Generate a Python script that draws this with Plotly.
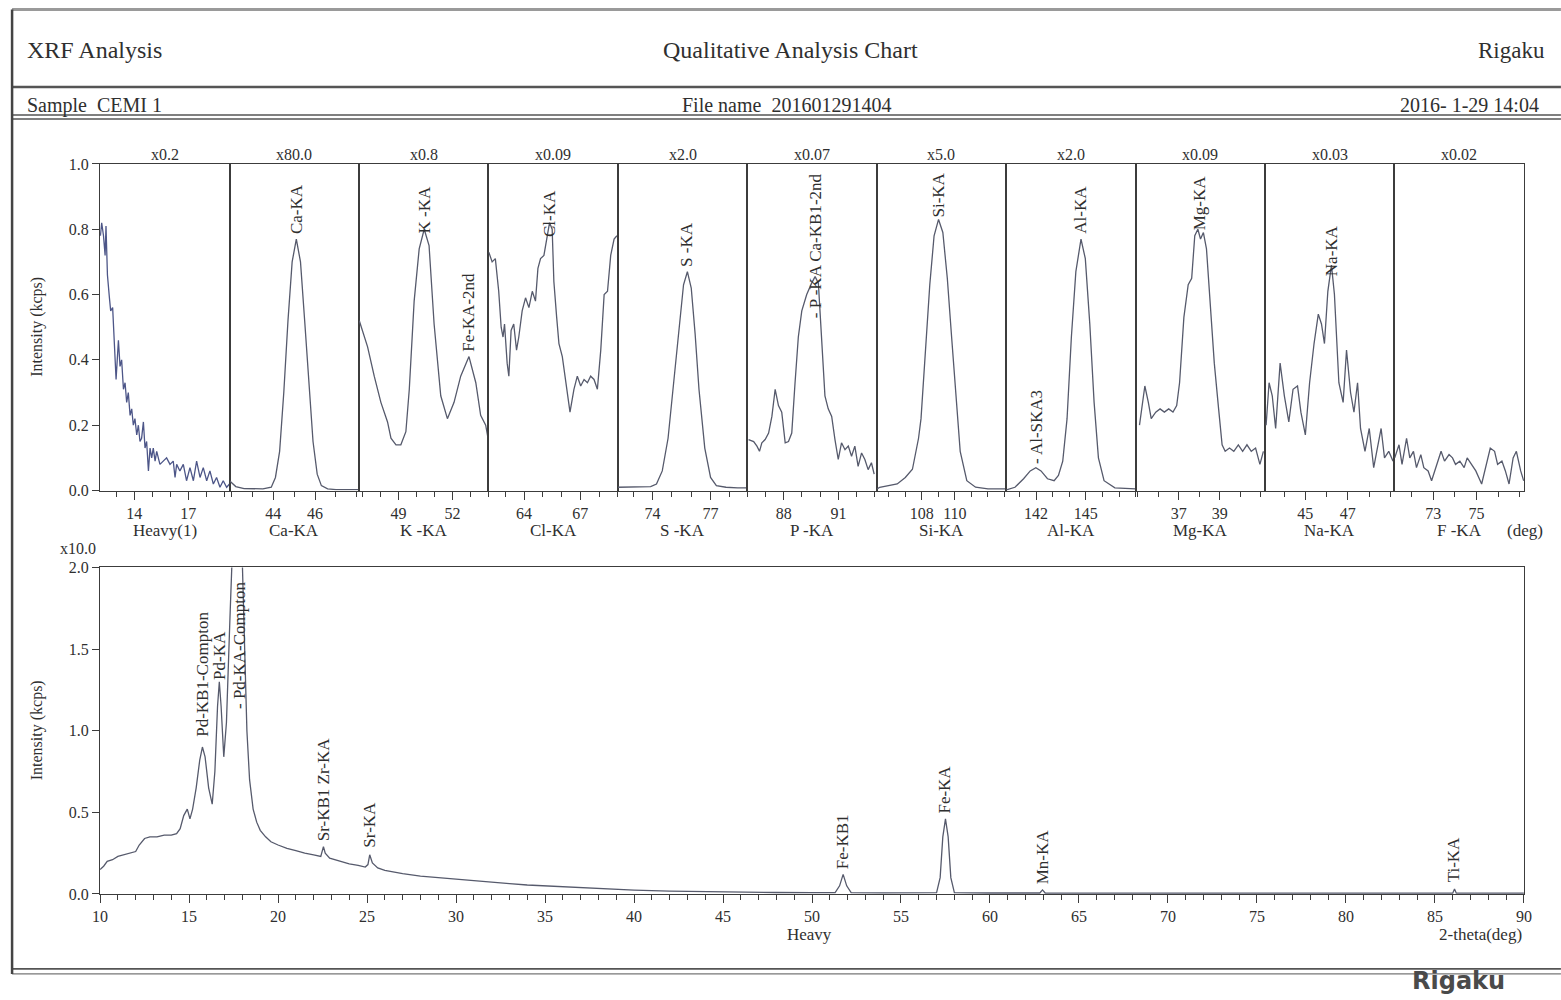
import plotly.graph_objects as go

# ---------------- DATA ----------------
panel_names = ["Heavy(1)", "Ca-KA", "K -KA", "Cl-KA", "S -KA", "P -KA",
               "Si-KA", "Al-KA", "Mg-KA", "Na-KA", "F -KA"]
panel_scales = ["x0.2", "x80.0", "x0.8", "x0.09", "x2.0", "x0.07",
                "x5.0", "x2.0", "x0.09", "x0.03", "x0.02"]
panel_ticks = [[14, 17], [44, 46], [49, 52], [64, 67], [74, 77], [88, 91],
               [108, 110], [142, 145], [37, 39], [45, 47], [73, 75]]
top_y_ticks = [0.0, 0.2, 0.4, 0.6, 0.8, 1.0]

heavy_x = [12.12, 12.19, 12.29, 12.38, 12.43, 12.51, 12.62, 12.69, 12.80, 12.88,
           12.99, 13.12, 13.21, 13.30, 13.40, 13.49, 13.58, 13.67, 13.77, 13.86,
           13.95, 14.04, 14.14, 14.23, 14.32, 14.41, 14.51, 14.60, 14.69, 14.79,
           14.88, 14.97, 15.06, 15.16, 15.25, 15.43, 15.62, 15.80, 15.99, 16.17,
           16.27, 16.36, 16.54, 16.73, 16.91, 17.10, 17.29, 17.47, 17.66, 17.84,
           18.03, 18.21, 18.40, 18.58, 18.77, 18.95, 19.14, 19.30]
heavy_y = [0.78, 0.82, 0.78, 0.72, 0.81, 0.66, 0.59, 0.55, 0.56, 0.47,
           0.34, 0.46, 0.38, 0.40, 0.31, 0.33, 0.27, 0.30, 0.23, 0.25,
           0.20, 0.22, 0.17, 0.20, 0.15, 0.16, 0.21, 0.13, 0.15, 0.06,
           0.13, 0.10, 0.13, 0.09, 0.12, 0.08, 0.09, 0.10, 0.08, 0.09,
           0.04, 0.08, 0.06, 0.08, 0.03, 0.07, 0.03, 0.09, 0.04, 0.07,
           0.03, 0.06, 0.02, 0.04, 0.01, 0.03, 0.01, 0.02]

ca_x = [41.9, 42.2, 42.6, 43.0, 43.5, 43.9, 44.1, 44.3, 44.5, 44.7, 44.9,
        45.1, 45.3, 45.5, 45.7, 45.9, 46.1, 46.3, 46.6, 47.0, 47.5, 48.1]
ca_y = [0.03, 0.012, 0.006, 0.005, 0.005, 0.01, 0.04, 0.12, 0.30, 0.52, 0.70,
        0.77, 0.70, 0.52, 0.32, 0.15, 0.05, 0.015, 0.005, 0.003, 0.003, 0.003]

k_x = [46.82, 47.28, 47.65, 48.02, 48.39, 48.58, 48.86, 49.13, 49.41, 49.60,
       49.87, 50.15, 50.43, 50.70, 50.98, 51.35, 51.72, 52.09, 52.46, 52.92,
       53.30, 53.57, 53.85, 53.98]
k_y = [0.52, 0.44, 0.35, 0.27, 0.21, 0.16, 0.14, 0.14, 0.18, 0.31,
       0.58, 0.74, 0.80, 0.75, 0.51, 0.29, 0.22, 0.27, 0.35, 0.41,
       0.33, 0.23, 0.20, 0.16]

cl_x = [62.12, 62.30, 62.47, 62.65, 62.78, 62.88, 62.96, 63.10, 63.19, 63.31,
        63.45, 63.60, 63.72, 63.90, 64.08, 64.26, 64.44, 64.61, 64.74, 64.88,
        65.06, 65.24, 65.36, 65.50, 65.59, 65.74, 65.86, 66.04, 66.22, 66.45,
        66.66, 66.84, 67.02, 67.20, 67.38, 67.55, 67.73, 67.91,
        68.09, 68.27, 68.45, 68.62, 68.80, 68.95]
cl_y = [0.73, 0.70, 0.71, 0.61, 0.50, 0.47, 0.51, 0.39, 0.35, 0.49,
        0.51, 0.43, 0.47, 0.55, 0.59, 0.56, 0.61, 0.58, 0.68, 0.71,
        0.72, 0.78, 0.82, 0.80, 0.64, 0.53, 0.45, 0.41, 0.33, 0.24,
        0.31, 0.35, 0.32, 0.34, 0.33, 0.35, 0.34, 0.31,
        0.43, 0.60, 0.61, 0.72, 0.77, 0.78]

s_x = [72.2, 72.8, 73.4, 73.9, 74.2, 74.5, 74.8, 75.1, 75.4, 75.6,
       75.8, 76.0, 76.2, 76.4, 76.7, 77.0, 77.3, 77.8, 78.4, 78.9]
s_y = [0.01, 0.01, 0.01, 0.012, 0.02, 0.06, 0.16, 0.34, 0.53, 0.63,
       0.67, 0.62, 0.48, 0.31, 0.13, 0.04, 0.015, 0.01, 0.008, 0.008]

p_x = [86.07, 86.35, 86.53, 86.67, 86.80, 86.98, 87.17, 87.35, 87.53, 87.71,
       87.89, 88.08, 88.26, 88.44, 88.62, 88.80, 88.99, 89.26, 89.53, 89.72,
       89.90, 90.08, 90.26, 90.44, 90.63, 90.81, 90.99, 91.17, 91.36, 91.54,
       91.72, 91.90, 92.08, 92.27, 92.45, 92.63, 92.81, 92.96]
p_y = [0.156, 0.15, 0.136, 0.12, 0.146, 0.156, 0.176, 0.227, 0.31, 0.26,
       0.24, 0.146, 0.15, 0.176, 0.33, 0.47, 0.55, 0.60, 0.635, 0.655,
       0.635, 0.48, 0.29, 0.25, 0.227, 0.156, 0.095, 0.146, 0.125, 0.136,
       0.105, 0.136, 0.074, 0.115, 0.095, 0.064, 0.085, 0.05]

si_x = [105.30, 105.45, 106.51, 107.00, 107.43, 107.80, 107.95, 108.22, 108.48, 108.74,
        109.01, 109.27, 109.54, 109.80, 110.06, 110.32, 110.72, 111.25, 112.0, 113.09]
si_y = [0.005, 0.01, 0.02, 0.04, 0.065, 0.16, 0.22, 0.43, 0.63, 0.78,
        0.83, 0.79, 0.65, 0.47, 0.28, 0.12, 0.03, 0.01, 0.005, 0.005]

al_x = [140.21, 140.73, 141.25, 141.65, 141.99, 142.30, 142.69, 143.09, 143.35, 143.61,
        143.87, 144.13, 144.40, 144.71, 144.97, 145.24, 145.50, 145.76, 146.10, 146.75,
        148.0]
al_y = [0.002, 0.01, 0.036, 0.06, 0.07, 0.06, 0.036, 0.03, 0.046, 0.09,
        0.22, 0.47, 0.67, 0.77, 0.71, 0.51, 0.27, 0.10, 0.03, 0.008,
        0.005]

mg_x = [35.09, 35.35, 35.52, 35.66, 35.88, 36.09, 36.30, 36.51, 36.72, 36.90,
        37.04, 37.25, 37.46, 37.63, 37.78, 37.93, 38.06, 38.20, 38.35, 38.52,
        38.73, 38.94, 39.11, 39.26, 39.47, 39.68, 39.90, 40.11, 40.32, 40.53,
        40.74, 40.95, 41.12]
mg_y = [0.20, 0.32, 0.27, 0.22, 0.24, 0.25, 0.24, 0.25, 0.24, 0.26,
        0.33, 0.53, 0.63, 0.65, 0.78, 0.80, 0.77, 0.79, 0.74, 0.58,
        0.39, 0.25, 0.14, 0.12, 0.13, 0.12, 0.14, 0.12, 0.14, 0.12,
        0.13, 0.08, 0.12]

na_x = [43.15, 43.29, 43.44, 43.60, 43.81, 44.01, 44.22, 44.42, 44.63, 44.79,
        45.00, 45.20, 45.41, 45.61, 45.76, 45.90, 46.06, 46.23, 46.37, 46.58,
        46.78, 46.94, 47.13, 47.29, 47.46, 47.60, 47.81, 48.01, 48.22, 48.42,
        48.57, 48.73, 48.93, 49.13]
na_y = [0.20, 0.33, 0.29, 0.19, 0.39, 0.29, 0.21, 0.31, 0.32, 0.24,
        0.17, 0.33, 0.45, 0.54, 0.51, 0.45, 0.61, 0.69, 0.60, 0.33,
        0.27, 0.43, 0.30, 0.24, 0.33, 0.19, 0.12, 0.19, 0.07, 0.14,
        0.19, 0.10, 0.12, 0.09]

f_x = [71.21, 71.41, 71.55, 71.76, 71.91, 72.08, 72.22, 72.42, 72.56, 72.76,
       72.92, 73.12, 73.36, 73.52, 73.73, 73.89, 74.03, 74.23, 74.43, 74.57,
       74.77, 74.97, 75.24, 75.44, 75.64, 75.84, 75.98, 76.18, 76.34, 76.51,
       76.70, 76.85, 77.05, 77.19]
f_y = [0.10, 0.14, 0.08, 0.16, 0.10, 0.12, 0.07, 0.11, 0.07, 0.06,
       0.03, 0.07, 0.12, 0.09, 0.11, 0.10, 0.08, 0.09, 0.07, 0.10,
       0.08, 0.06, 0.02, 0.08, 0.13, 0.12, 0.08, 0.09, 0.06, 0.02,
       0.10, 0.12, 0.06, 0.03]

top_series = [(heavy_x, heavy_y), (ca_x, ca_y), (k_x, k_y), (cl_x, cl_y),
              (s_x, s_y), (p_x, p_y), (si_x, si_y), (al_x, al_y),
              (mg_x, mg_y), (na_x, na_y), (f_x, f_y)]

# (panel index, label, 2-theta, intensity at label base)
top_labels = [
    (1, "Ca-KA", 45.10, 0.78),
    (2, "K -KA", 50.43, 0.78),
    (2, "Fe-KA-2nd", 52.92, 0.42),
    (3, "Cl-KA", 65.36, 0.77),
    (4, "S -KA", 75.78, 0.68),
    (5, "- P -KA Ca-KB1-2nd", 89.72, 0.52),
    (6, "Si-KA", 109.01, 0.83),
    (7, "- Al-SKA3", 142.00, 0.075),
    (7, "Al-KA", 144.71, 0.78),
    (8, "Mg-KA", 38.00, 0.79),
    (9, "Na-KA", 46.23, 0.65),
]

bottom_x = [10.0, 10.2, 10.4, 10.7, 11.0, 11.3, 11.6, 12.0, 12.2, 12.5,
            12.8, 13.2, 13.6, 14.0, 14.3, 14.5, 14.7, 14.9, 15.05, 15.2,
            15.4, 15.6, 15.75, 15.9, 16.1, 16.3, 16.45, 16.6, 16.7, 16.8,
            16.95, 17.1, 17.3, 17.45, 17.6, 17.8, 17.95, 18.1, 18.25, 18.4,
            18.6, 18.8, 19.0, 19.3, 19.6, 20.0, 20.5, 21.0, 21.5, 22.0,
            22.4, 22.55, 22.65, 22.9, 23.5, 24.0, 24.5, 24.9, 25.05, 25.15,
            25.3, 25.6, 26.0, 27.0, 28.0, 29.0, 30.0, 31.0, 32.0, 33.0,
            34.0, 35.0, 36.0, 37.0, 38.0, 39.0, 40.0, 42.0, 44.0, 46.0,
            48.0, 50.0, 51.3, 51.55, 51.75, 51.95, 52.2, 54.0, 56.0, 57.0,
            57.2, 57.35, 57.5, 57.65, 57.8, 58.0, 60.0, 62.8, 62.95, 63.1,
            66.0, 70.0, 75.0, 80.0, 85.0, 86.0, 86.1, 86.2, 90.0]
bottom_y = [0.15, 0.17, 0.20, 0.21, 0.23, 0.24, 0.25, 0.26, 0.30, 0.34,
            0.35, 0.35, 0.36, 0.36, 0.37, 0.40, 0.48, 0.52, 0.46, 0.52,
            0.65, 0.82, 0.90, 0.84, 0.65, 0.55, 0.75, 1.15, 1.30, 1.15,
            0.84, 1.05, 1.70, 2.30, 2.60, 2.60, 2.20, 1.60, 1.00, 0.70,
            0.52, 0.44, 0.39, 0.35, 0.32, 0.30, 0.28, 0.265, 0.25, 0.24,
            0.23, 0.29, 0.25, 0.22, 0.20, 0.185, 0.175, 0.165, 0.18, 0.24,
            0.19, 0.16, 0.145, 0.125, 0.11, 0.10, 0.09, 0.08, 0.07, 0.063,
            0.055, 0.05, 0.044, 0.038, 0.033, 0.028, 0.024, 0.018, 0.014, 0.011,
            0.009, 0.008, 0.008, 0.05, 0.12, 0.05, 0.008, 0.007, 0.006, 0.008,
            0.10, 0.35, 0.46, 0.35, 0.10, 0.008, 0.006, 0.006, 0.025, 0.006,
            0.005, 0.005, 0.005, 0.005, 0.005, 0.005, 0.03, 0.005, 0.005]
bottom_x_ticks = [10, 15, 20, 25, 30, 35, 40, 45, 50, 55, 60, 65, 70, 75, 80, 85, 90]
bottom_y_ticks = [0.0, 0.5, 1.0, 1.5, 2.0]

bottom_labels = [
    ("Pd-KB1-Compton", 15.75, 0.95),
    ("Pd-KA", 16.72, 1.30),
    ("- Pd-KA-Compton", 17.80, 1.12),
    ("Sr-KB1 Zr-KA", 22.60, 0.31),
    ("Sr-KA", 25.15, 0.27),
    ("Fe-KB1", 51.72, 0.14),
    ("Fe-KA", 57.47, 0.48),
    ("Mn-KA", 62.92, 0.05),
    ("Ti-KA", 86.05, 0.06),
]

# ---------------- LAYOUT CONFIG ----------------
panel_ranges = [[12.1, 19.3], [41.9, 48.1], [46.8, 54.0], [62.1, 69.0],
                [72.2, 78.9], [86.0, 93.1], [105.27, 113.1], [140.2, 148.0],
                [34.9, 41.2], [43.1, 49.2], [71.2, 77.2]]

W, H = 1561, 1000
# the page keeps an 8px body margin and the capture is fitted back to the
# window, so reference pixel positions are mapped into figure pixels here
OFF = 8
KX = (W + 2 * OFF) / W
KY = (H + 2 * OFF) / H
L, R = 100, 1524
TOP_T, TOP_B = 164, 491
BOT_T, BOT_B = 568, 895
SERIF = "Liberation Serif, Times New Roman, serif"
TXT = "#2f2f2f"
AXC = "#3c3c3c"
LINE = "#565a6c"
HEAVY = "#4d5688"


def fx(p):
    return (p * KX - OFF) / W


def fy(p):
    return 1 - (p * KY - OFF) / H


n = len(panel_names)
bounds = [L + (R - L) * i / n for i in range(n + 1)]

fig = go.Figure()
layout = dict(
    width=W, height=H, autosize=False, margin=dict(l=0, r=0, t=0, b=0, pad=0),
    paper_bgcolor="white", plot_bgcolor="white", showlegend=False,
    hovermode=False,
)

for i in range(n):
    xs, ys = top_series[i]
    xn = "x" if i == 0 else f"x{i + 1}"
    yn = "y" if i == 0 else f"y{i + 1}"
    fig.add_trace(go.Scatter(x=xs, y=ys, mode="lines", xaxis=xn, yaxis=yn,
                             line=dict(color=HEAVY if i == 0 else LINE, width=1.3)))
    xkey = "xaxis" if i == 0 else f"xaxis{i + 1}"
    ykey = "yaxis" if i == 0 else f"yaxis{i + 1}"
    layout[xkey] = dict(
        domain=[fx(bounds[i]), fx(bounds[i + 1])], range=panel_ranges[i], anchor=yn,
        tickmode="array", tickvals=panel_ticks[i], ticks="outside", ticklen=8,
        tickcolor=AXC, tickwidth=1.2, showline=True, linecolor=AXC, linewidth=1.4,
        mirror=True, showgrid=False, zeroline=False,
        tickfont=dict(family=SERIF, size=16, color=TXT),
        minor=dict(tickmode="linear", tick0=0, dtick=1, ticks="outside",
                   ticklen=5, tickcolor=AXC, tickwidth=1),
        fixedrange=True,
    )
    ydict = dict(
        domain=[fy(TOP_B), fy(TOP_T)], range=[0, 1], anchor=xn,
        showline=True, linecolor=AXC, linewidth=1.4, mirror=True,
        showgrid=False, zeroline=False, fixedrange=True,
    )
    if i == 0:
        ydict.update(tickmode="array", tickvals=top_y_ticks, tickformat=".1f",
                     ticks="outside", ticklen=7, tickcolor=AXC, tickwidth=1.2,
                     tickfont=dict(family=SERIF, size=16, color=TXT))
    else:
        ydict.update(showticklabels=False, ticks="")
    layout[ykey] = ydict

# bottom full spectrum
fig.add_trace(go.Scatter(x=bottom_x, y=bottom_y, mode="lines", xaxis="x12", yaxis="y12",
                         line=dict(color=LINE, width=1.3)))
layout["xaxis12"] = dict(
    domain=[fx(L), fx(R)], range=[10, 90], anchor="y12",
    tickmode="array", tickvals=bottom_x_ticks, ticks="outside", ticklen=8,
    tickcolor=AXC, tickwidth=1.2, showline=True, linecolor=AXC, linewidth=1.4,
    mirror=True, showgrid=False, zeroline=False,
    tickfont=dict(family=SERIF, size=16, color=TXT),
    minor=dict(tickmode="linear", tick0=0, dtick=1, ticks="outside",
               ticklen=5, tickcolor=AXC, tickwidth=1),
    fixedrange=True,
)
layout["yaxis12"] = dict(
    domain=[fy(BOT_B), fy(BOT_T)], range=[0, 2], anchor="x12",
    tickmode="array", tickvals=bottom_y_ticks, tickformat=".1f",
    ticks="outside", ticklen=7, tickcolor=AXC, tickwidth=1.2,
    showline=True, linecolor=AXC, linewidth=1.4, mirror=True,
    showgrid=False, zeroline=False, fixedrange=True,
    tickfont=dict(family=SERIF, size=16, color=TXT),
)


def ann(text, x, y, size, xanchor="center", yanchor="middle", color=TXT, **kw):
    return dict(text=text, x=fx(x), y=fy(y), xref="paper", yref="paper",
                showarrow=False, xanchor=xanchor, yanchor=yanchor,
                font=dict(family=SERIF, size=size, color=color), **kw)


annotations = [
    ann("XRF Analysis", 25, 50, 24, xanchor="left"),
    ann("Qualitative Analysis Chart", 791, 50, 24),
    ann("Rigaku", 1476, 50, 23, xanchor="left"),
    ann("Sample  CEMI 1", 25, 105, 20, xanchor="left"),
    ann("File name  201601291404", 787, 105, 20),
    ann("2016- 1-29 14:04", 1541, 105, 20, xanchor="right"),
    ann("Intensity (kcps)", 37, 327, 16, textangle=-90),
    ann("Intensity (kcps)", 37, 731, 16, textangle=-90),
    ann("x10.0", 78, 549, 16),
    ann("(deg)", 1525, 531, 17),
    ann("Heavy", 810, 936, 17),
    ann("2-theta(deg)", 1481, 936, 17),
    dict(text="<b>Rigaku</b>", x=fx(1410), y=fy(982), xref="paper", yref="paper",
         showarrow=False, xanchor="left", yanchor="middle",
         font=dict(family="DejaVu Sans, Arial, sans-serif", size=24, color="#4a4a4a")),
]

for i in range(n):
    cx = (bounds[i] + bounds[i + 1]) / 2
    annotations.append(ann(panel_scales[i], cx, 155, 16))
    annotations.append(ann(panel_names[i], cx, 531, 17))

for (pi, text, xv, yv) in top_labels:
    xn = "x" if pi == 0 else f"x{pi + 1}"
    yn = "y" if pi == 0 else f"y{pi + 1}"
    annotations.append(dict(text=text, x=xv, y=yv, xref=xn, yref=yn, showarrow=False,
                            textangle=-90, xanchor="center", yanchor="bottom",
                            font=dict(family=SERIF, size=17, color=TXT)))

for (text, xv, yv) in bottom_labels:
    annotations.append(dict(text=text, x=xv, y=yv, xref="x12", yref="y12", showarrow=False,
                            textangle=-90, xanchor="center", yanchor="bottom",
                            font=dict(family=SERIF, size=17, color=TXT)))

layout["annotations"] = annotations


def hline(y, x0, x1, w, color="#444"):
    return dict(type="line", xref="paper", yref="paper", x0=fx(x0), x1=fx(x1),
                y0=fy(y), y1=fy(y), line=dict(color=color, width=w))


shapes = [
    hline(9.5, 12, 1561, 3, "#9a9a9a"),
    hline(87, 12, 1561, 2.5, "#555"),
    hline(115, 12, 1561, 1.3, "#555"),
    hline(119, 12, 1561, 1.3, "#555"),
    hline(970, 12, 1561, 1.6, "#555"),
    hline(975, 12, 1561, 1.3, "#777"),
    dict(type="line", xref="paper", yref="paper", x0=fx(12), x1=fx(12),
         y0=fy(9.5), y1=fy(975), line=dict(color="#444", width=2.5)),
]
layout["shapes"] = shapes

fig.update_layout(**layout)
fig.write_html("out.html", config={"displayModeBar": False})
